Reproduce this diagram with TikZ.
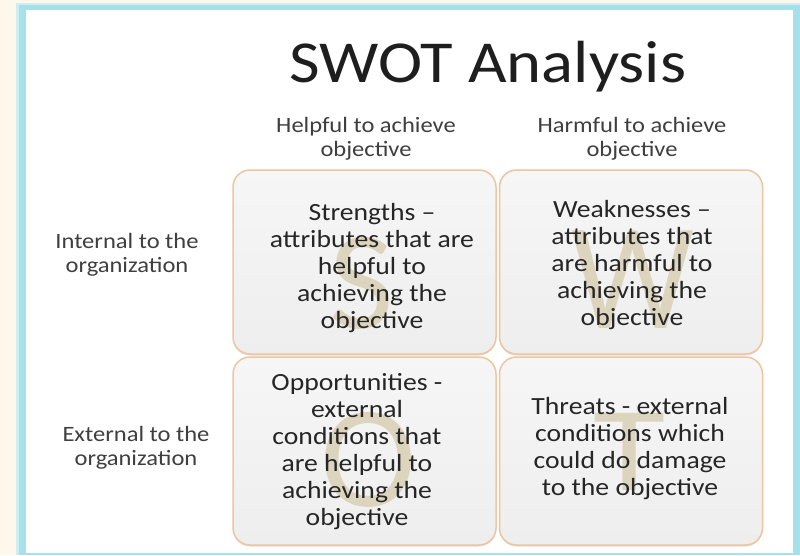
\documentclass[tikz,border=0pt]{standalone}
\usepackage{fontspec}
\setmainfont{Carlito}
\newfontfamily\calfont[FakeStretch=1.12]{Carlito}
\newfontfamily\letterfont{Carlito}
\usetikzlibrary{shadows}
\definecolor{cream}{HTML}{FDF8EB}
\definecolor{frameblue}{HTML}{A6E0EA}
\definecolor{boxedge}{HTML}{EDC6A0}
\definecolor{boxfilltop}{HTML}{F6F6F6}
\definecolor{boxfillbot}{HTML}{EEEEEE}
\definecolor{ghost}{HTML}{DCD4BC}
\definecolor{txt}{HTML}{262626}
\definecolor{hdr}{HTML}{3F3F3F}
\definecolor{ttl}{HTML}{1E1E1E}
\begin{document}
\begin{tikzpicture}[x=1pt,y=-1pt,
  quad/.style={draw=boxedge, line width=1.5pt, rounded corners=17pt,
    top color=boxfilltop, bottom color=boxfillbot,
    minimum width=263pt, inner sep=0pt,
    drop shadow={shadow xshift=0pt, shadow yshift=-1.5pt, opacity=0.25}},
  titletext/.style={font=\calfont\fontsize{59.5}{60}\selectfont, text=ttl, anchor=base, inner sep=0pt},
  hdrtext/.style={font=\calfont\fontsize{21.9}{24}\selectfont, text=hdr, align=center, inner sep=0pt},
  boxtext/.style={font=\calfont\fontsize{24.7}{27}\selectfont, text=txt, align=center, inner sep=0pt},
  ghostletter/.style={font=\letterfont\fontsize{145}{145}\selectfont, text=ghost, inner sep=0pt}
]
\useasboundingbox (0,0) rectangle (800,555);
% background and frame
\fill[cream] (0,0) rectangle (800,555);
\fill[frameblue!55] (16,3) rectangle (800,555);
\fill[frameblue] (19,5) rectangle (800,555);
\fill[white] (26,10) rectangle (793,553);

% quadrant boxes
\node[quad, minimum height=184pt] (Sbox) at (364.5,262) {};
\node[quad, minimum height=184pt] (Wbox) at (631,262) {};
\node[quad, minimum height=188pt] (Obox) at (364.5,451) {};
\node[quad, minimum height=188pt] (Tbox) at (631,451) {};

% ghost letters
\node[ghostletter, scale=0.97] (Sl) at (362,283) {S};
\node[ghostletter, xscale=0.95, yscale=1.05] (Wl) at (633,280) {W};
\node[ghostletter] (Ol) at (368,460) {O};
\node[ghostletter, xscale=1.02, yscale=0.83] (Tl) at (630,452) {T};

% title and headers
\node[titletext] (title) at (488,82) {SWOT Analysis};
\node[hdrtext] (helpful) at (366,138.7) {Helpful to achieve\\objective};
\node[hdrtext] (harmful) at (632,138.7) {Harmful to achieve\\objective};
\node[hdrtext] (internal) at (127,254.7) {Internal to the\\organization};
\node[hdrtext] (external) at (136,448) {External to the\\organization};

% box texts
\node[boxtext] (Stext) at (372,268) {Strengths –\\attributes that are\\helpful to\\achieving the\\objective};
\node[boxtext] (Wtext) at (632,265) {Weaknesses –\\attributes that\\are harmful to\\achieving the\\objective};
\node[boxtext] (Otext) at (357,451.5) {Opportunities -\\external\\conditions that\\are helpful to\\achieving the\\objective};
\node[boxtext] (Ttext) at (630,449) {Threats - external\\conditions which\\could do damage\\to the objective};
\end{tikzpicture}
\end{document}
